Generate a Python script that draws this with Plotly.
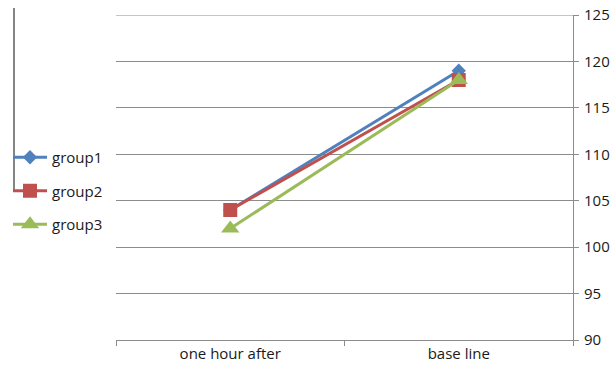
import plotly.graph_objects as go

# Categories and series values
categories = ["one hour after", "base line"]
group1 = [104, 119]
group2 = [104, 118]
group3 = [102, 118]
y_ticks = [90, 95, 100, 105, 110, 115, 120, 125]

series = [
    ("group1", group1, "#4F81BD", "diamond", 11),
    ("group2", group2, "#C0504D", "square", 14),
    ("group3", group3, "#9BBB59", "triangle-up", 16),
]

FONT = "Open Sans"
FS = 15
GRID = "#8C8C8C"
TXT = "#1a1a1a"

fig = go.Figure()
for name, vals, color, symbol, size in series:
    fig.add_trace(go.Scatter(
        x=categories, y=vals, name=name, mode="lines+markers",
        legendgroup=name,
        line=dict(color=color, width=3),
        marker=dict(symbol=symbol, size=size, color=color,
                    line=dict(width=0)),
    ))

W, H = 613, 372
ml, mr, mt, mb = 116, 40, 15, 32
pw = W - ml - mr
ph = H - mt - mb

def px_x(x):
    return (x - ml) / pw

def px_y(y):
    return (H - mb - y) / ph

fig.update_layout(
    width=W, height=H,
    margin=dict(l=ml, r=mr, t=mt, b=mb, pad=0, autoexpand=False),
    paper_bgcolor="white", plot_bgcolor="white",
    font=dict(family=FONT, size=FS, color=TXT),
    showlegend=True,
    legend=dict(
        x=px_x(8), y=px_y(141), xanchor="left", yanchor="top",
        traceorder="grouped", tracegroupgap=11, itemwidth=34,
        font=dict(family=FONT, size=FS, color=TXT),
        bgcolor="rgba(0,0,0,0)", borderwidth=0,
    ),
    xaxis=dict(
        type="category", range=[-0.5, 1.5], automargin=False,
        showline=True, linecolor=GRID, linewidth=1,
        ticks="outside", ticklen=5, tickcolor=GRID, tickson="boundaries",
        showgrid=False, zeroline=False,
        tickfont=dict(family=FONT, size=FS, color=TXT),
    ),
    yaxis=dict(
        side="right", range=[y_ticks[0], y_ticks[-1]], tickvals=y_ticks,
        automargin=False,
        showline=True, linecolor=GRID, linewidth=1,
        ticks="outside", ticklen=5, tickcolor=GRID,
        showgrid=True, gridcolor=GRID, gridwidth=1, zeroline=False,
        tickfont=dict(family=FONT, size=FS, color=TXT),
        ticklabelstandoff=2,
    ),
    shapes=[
        # gridline along the top edge of the value range
        dict(type="line", xref="paper", yref="y", layer="below",
             x0=0, x1=1, y0=y_ticks[-1], y1=y_ticks[-1],
             line=dict(color=GRID, width=1)),
        # thin rule at the far left beside the legend
        dict(type="line", xref="paper", yref="paper",
             x0=px_x(14), x1=px_x(14), y0=px_y(8), y1=px_y(191),
             line=dict(color="#333333", width=1.2)),
    ],
)

fig.write_html("out.html")
